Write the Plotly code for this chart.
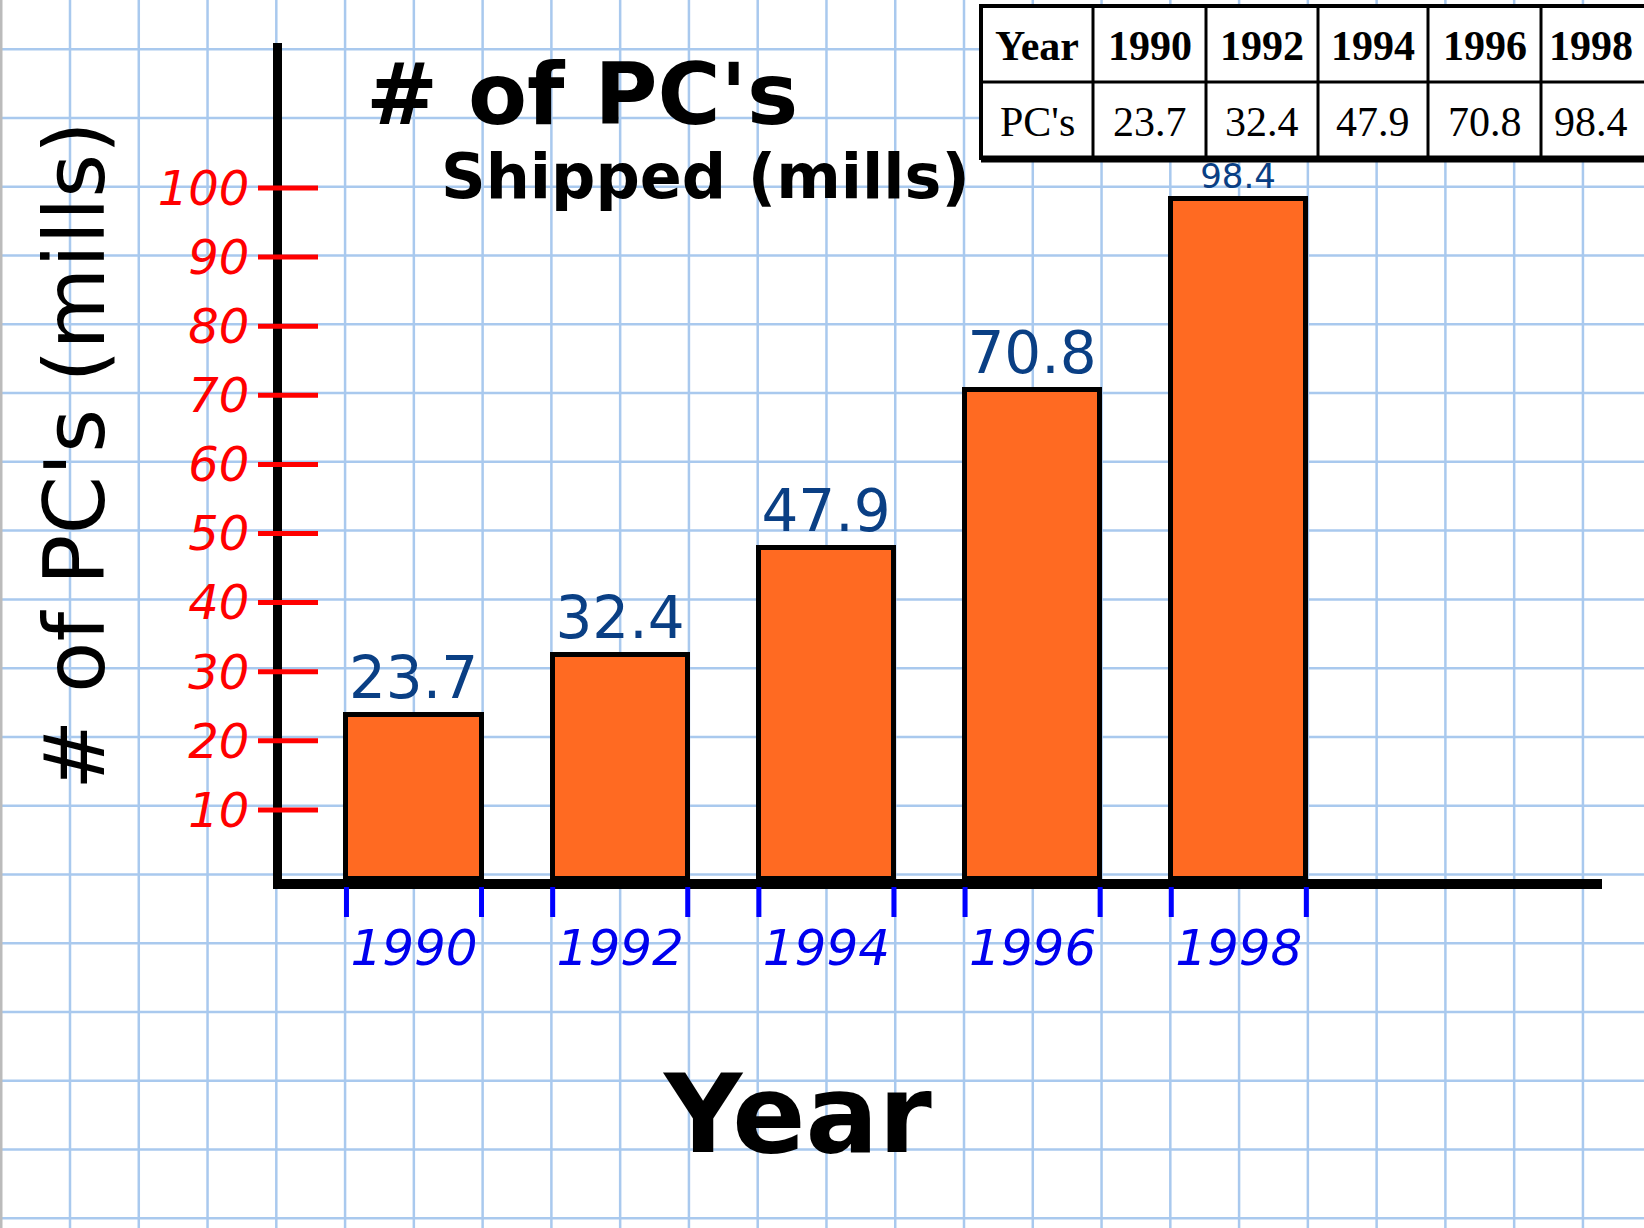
import plotly.graph_objects as go

# ---------------- data ----------------
years = [1990, 1992, 1994, 1996, 1998]
pcs_shipped = [23.7, 32.4, 47.9, 70.8, 98.4]
year_labels = ["1990", "1992", "1994", "1996", "1998"]
value_labels = ["23.7", "32.4", "47.9", "70.8", "98.4"]
y_tick_values = [10, 20, 30, 40, 50, 60, 70, 80, 90, 100]
y_tick_labels = ["10", "20", "30", "40", "50", "60", "70", "80", "90", "100"]
table_row_names = ["Year", "PC's"]

# ---------------- layout geometry (pixels) ----------------
W, H = 1644, 1228
def px(x):
    return x / W
def py(y):
    return 1 - y / H

X_LEFT, X_RIGHT = 282, 1602
Y_ZERO, Y_TOP = 879, 43
PX_PER_UNIT = 6.91
PX_PER_YEAR = 103.1
X_1990 = 414
x_range = [1990 - (X_1990 - X_LEFT) / PX_PER_YEAR, 1990 + (X_RIGHT - X_1990) / PX_PER_YEAR]
y_range = [0, (Y_ZERO - Y_TOP) / PX_PER_UNIT]
BAR_W = 1.31

HAND = "DejaVu Sans"
label_sizes = [58, 58, 58, 58, 34]

fig = go.Figure()

fig.add_trace(go.Bar(
    x=years, y=pcs_shipped, width=BAR_W,
    marker=dict(color="#FF6A22", line=dict(color="black", width=5)),
    text=value_labels, textposition="outside", cliponaxis=False,
    textfont=dict(family=HAND, color="#0A3F84", size=label_sizes),
    xaxis="x", yaxis="y", showlegend=False, hoverinfo="skip",
))

shapes = []
annotations = []

# graph-paper grid
GRID = 68.77
grid_col = "#A9C9EE"
k = -1
while 70 + k * GRID < W + 2:
    x = 70 + k * GRID
    if x > 3:
        shapes.append(dict(type="line", xref="paper", yref="paper", x0=px(x), x1=px(x), y0=0, y1=1,
                           line=dict(color=grid_col, width=2.5), layer="below"))
    k += 1
for k in range(-20, 5):
    y = 1012 + k * GRID
    if 0 < y < H:
        shapes.append(dict(type="line", xref="paper", yref="paper", x0=0, x1=1, y0=py(y), y1=py(y),
                           line=dict(color=grid_col, width=2.5), layer="below"))
shapes.append(dict(type="line", xref="paper", yref="paper", x0=px(1), x1=px(1), y0=0, y1=1,
                   line=dict(color="#BBBBBB", width=3), layer="below"))

# red y tick marks crossing the axis
for v in y_tick_values:
    shapes.append(dict(type="line", xref="paper", yref="y", x0=px(258), x1=px(318), y0=v, y1=v,
                       line=dict(color="#FF0000", width=5), layer="above"))
# blue x tick marks at bar edges
for yr in years:
    for edge in (yr - BAR_W / 2, yr + BAR_W / 2):
        shapes.append(dict(type="line", xref="x", yref="paper", x0=edge, x1=edge,
                           y0=py(887), y1=py(917), line=dict(color="#0000FF", width=5), layer="above"))

# ---------------- data table (top right) ----------------
col_edges = [981, 1093, 1206, 1318, 1428, 1541, 1654]
row_edges = [6, 82, 158]
table_rows = [[table_row_names[0]] + year_labels, [table_row_names[1]] + value_labels]
shapes.append(dict(type="rect", xref="paper", yref="paper", x0=px(col_edges[0]), x1=px(col_edges[-1]),
                   y0=py(row_edges[-1]), y1=py(row_edges[0]), fillcolor="white",
                   line=dict(color="black", width=4), layer="above"))
for ce in col_edges[1:-1]:
    shapes.append(dict(type="line", xref="paper", yref="paper", x0=px(ce), x1=px(ce),
                       y0=py(row_edges[-1]), y1=py(row_edges[0]), line=dict(color="black", width=3), layer="above"))
shapes.append(dict(type="line", xref="paper", yref="paper", x0=px(col_edges[0]), x1=1,
                   y0=py(row_edges[1]), y1=py(row_edges[1]), line=dict(color="black", width=3), layer="above"))
shapes.append(dict(type="line", xref="paper", yref="paper", x0=px(col_edges[0]), x1=1,
                   y0=py(row_edges[-1] + 1), y1=py(row_edges[-1] + 1), line=dict(color="black", width=7), layer="above"))
for r, row in enumerate(table_rows):
    yc = (row_edges[r] + row_edges[r + 1]) / 2
    for c, txt in enumerate(row):
        xc = (col_edges[c] + col_edges[c + 1]) / 2
        if c == len(row) - 1:
            xc = col_edges[c] + 50
        annotations.append(dict(
            text=("<b>%s</b>" % txt) if r == 0 else txt,
            x=px(xc), y=py(yc + 2), xref="paper", yref="paper", showarrow=False,
            xanchor="center", yanchor="middle",
            font=dict(family="Liberation Serif", size=42, color="black")))

annotations += [
    dict(text="<b># of PC's</b>", x=px(582), y=py(94), xref="paper", yref="paper", showarrow=False,
         font=dict(family=HAND, size=86, color="black"), xanchor="center", yanchor="middle"),
    dict(text="<b>Shipped (mills)</b>", x=px(705), y=py(176), xref="paper", yref="paper", showarrow=False,
         font=dict(family=HAND, size=62, color="black"), xanchor="center", yanchor="middle"),
    dict(text="# of PC's (mills)", x=px(75), y=py(456), xref="paper", yref="paper", showarrow=False,
         textangle=-90, font=dict(family=HAND, size=84, color="black"), xanchor="center", yanchor="middle"),
    dict(text="<b>Year</b>", x=px(797), y=py(1114), xref="paper", yref="paper", showarrow=False,
         font=dict(family=HAND, size=108, color="black"), xanchor="center", yanchor="middle"),
]

fig.update_layout(
    width=W, height=H,
    margin=dict(l=0, r=0, t=0, b=0),
    paper_bgcolor="white", plot_bgcolor="rgba(0,0,0,0)",
    shapes=shapes, annotations=annotations,
    xaxis=dict(domain=[px(X_LEFT), px(X_RIGHT)], range=x_range, showgrid=False, zeroline=False,
               showline=True, linecolor="black", linewidth=10,
               tickmode="array", tickvals=years, ticktext=year_labels, ticks="",
               ticklabelstandoff=16,
               tickfont=dict(family=HAND, size=50, color="#0000EE", style="italic")),
    yaxis=dict(domain=[py(Y_ZERO), py(Y_TOP)], range=y_range, showgrid=False, zeroline=False,
               showline=True, linecolor="black", linewidth=9,
               tickmode="array", tickvals=y_tick_values, ticktext=y_tick_labels, ticks="",
               ticklabelstandoff=14,
               tickfont=dict(family=HAND, size=48, color="#FF0000", style="italic")),
    bargap=0,
)

fig.write_html("out.html", config={"displayModeBar": False},
               post_script="document.body.style.margin='0';document.body.style.padding='0';")
